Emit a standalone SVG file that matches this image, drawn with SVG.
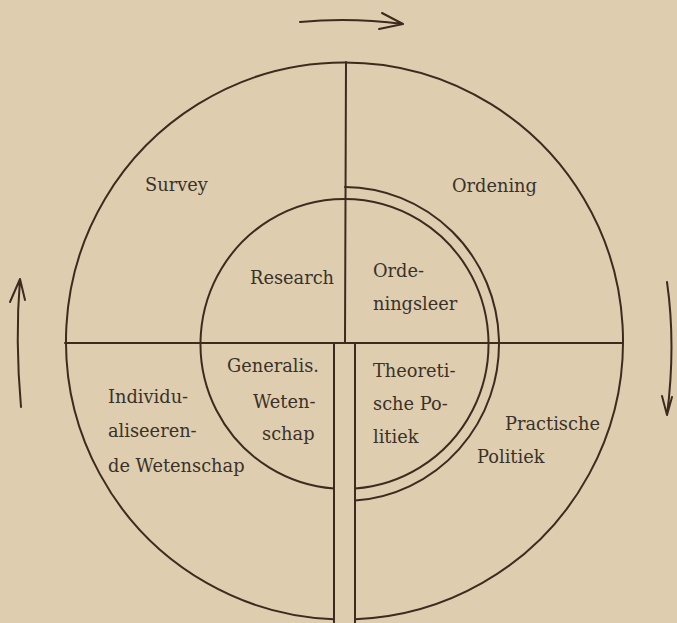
<svg xmlns="http://www.w3.org/2000/svg" width="677" height="623" viewBox="0 0 677 623">
<style>
.ln{fill:none;stroke:#3d2b1f;stroke-width:2;stroke-linecap:round;stroke-linejoin:round}
.ar{fill:none;stroke:#3d2b1f;stroke-width:2;stroke-linecap:round;stroke-linejoin:round}
text{font-family:"DejaVu Serif","Liberation Serif",serif;font-size:17.8px;fill:#3a3228}
</style>
<rect width="677" height="623" fill="#dfcdb0"/>
<g id="connectors">
<path class="ln" d="M334 619.3 A278.5 278.5 0 1 1 355 619.3"/>
<path class="ln" d="M334 488.6 A144 145 0 1 1 355 488.6"/>
<path class="ln" d="M345 187 A155 157 0 0 1 355 500.6"/>
<path class="ln" d="M346 62 L345 343"/>
<path class="ln" d="M65 343 L622 343"/>
<path class="ln" d="M334 343 L334 623"/>
<path class="ln" d="M355 343 L355 623"/>
<path class="ar" d="M300 22 Q350 17 403 24 M382 13 L403 24 L379 29"/>
<path class="ar" d="M21 407 Q15 340 20 279 M10 302 L20 279 L25 300"/>
<path class="ar" d="M667 282 Q676 345 667 415 M662 396 L667 415 L672 397"/>
</g>
<g id="survey"><text x="145" y="191">Survey</text></g>
<g id="ordening"><text x="452" y="192">Ordening</text></g>
<g id="research"><text x="250" y="284">Research</text></g>
<g id="ordeningsleer"><text x="373" y="277">Orde-</text><text x="373" y="310">ningsleer</text></g>
<g id="generalis"><text x="227" y="372">Generalis.</text><text x="253" y="408">Weten-</text><text x="262" y="440">schap</text></g>
<g id="theoretische"><text x="373" y="377">Theoreti-</text><text x="373" y="410">sche Po-</text><text x="373" y="443">litiek</text></g>
<g id="individualiseerende"><text x="108" y="403">Individu-</text><text x="108" y="437">aliseeren-</text><text x="108" y="472">de Wetenschap</text></g>
<g id="practische"><text x="505" y="430">Practische</text><text x="477" y="463">Politiek</text></g>
</svg>
